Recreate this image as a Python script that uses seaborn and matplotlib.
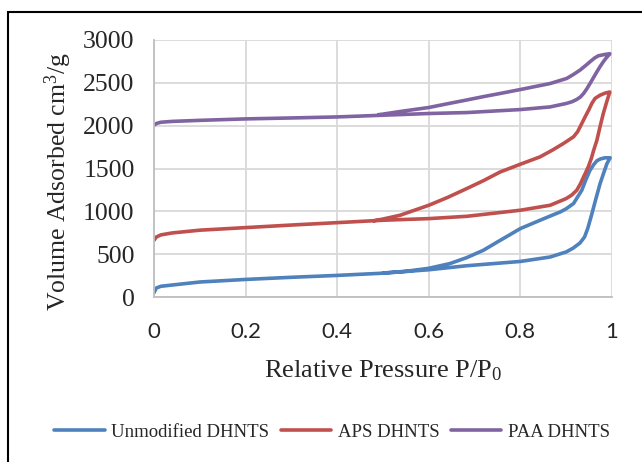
import matplotlib
matplotlib.use("Agg")
import matplotlib.pyplot as plt
from matplotlib.patches import Rectangle
import pandas as pd
import seaborn as sns

# Nitrogen adsorption/desorption isotherms (relative pressure vs. volume adsorbed)
series_names = ["Unmodified DHNTS", "APS DHNTS", "PAA DHNTS"]
series_colors = ["#4F81BD", "#C0504D", "#8064A2"]

unmod_ads_p = [0, 0.005, 0.015, 0.04, 0.1, 0.2, 0.3, 0.4, 0.5, 0.6, 0.683, 0.8, 0.865, 0.9, 0.915, 0.93, 0.94, 0.947, 0.955, 0.965, 0.974, 0.982, 0.989, 0.996]
unmod_ads_v = [50, 105, 125, 140, 175, 205, 230, 252, 278, 318, 365, 415, 467, 526, 570, 630, 700, 800, 950, 1150, 1324, 1450, 1558, 1625]
unmod_des_p = [0.996, 0.985, 0.975, 0.967, 0.96, 0.952, 0.943, 0.934, 0.916, 0.9, 0.887, 0.865, 0.843, 0.8, 0.778, 0.756, 0.719, 0.683, 0.646, 0.6, 0.55, 0.5]
unmod_des_v = [1625, 1625, 1612, 1590, 1545, 1480, 1370, 1246, 1091, 1030, 993, 945, 896, 799, 730, 662, 545, 460, 390, 335, 300, 280]

aps_ads_p = [0, 0.005, 0.015, 0.04, 0.1, 0.2, 0.3, 0.4, 0.5, 0.6, 0.683, 0.8, 0.865, 0.9, 0.912, 0.923, 0.931, 0.938, 0.944, 0.949, 0.955, 0.96, 0.967, 0.974, 0.981, 0.988, 0.995]
aps_ads_v = [662, 700, 725, 748, 780, 810, 840, 868, 896, 915, 942, 1013, 1071, 1149, 1190, 1246, 1320, 1402, 1470, 1530, 1620, 1713, 1830, 1990, 2142, 2270, 2390]
aps_des_p = [0.995, 0.985, 0.974, 0.963, 0.956, 0.949, 0.941, 0.934, 0.925, 0.916, 0.894, 0.87, 0.843, 0.8, 0.756, 0.72, 0.683, 0.64, 0.6, 0.537, 0.5, 0.48]
aps_des_v = [2393, 2380, 2356, 2318, 2260, 2181, 2100, 2025, 1930, 1870, 1792, 1715, 1636, 1550, 1460, 1360, 1266, 1160, 1071, 954, 910, 890]

paa_ads_p = [0, 0.005, 0.015, 0.04, 0.1, 0.2, 0.3, 0.4, 0.5, 0.6, 0.683, 0.8, 0.865, 0.9, 0.913, 0.923, 0.931, 0.938, 0.945, 0.952, 0.96, 0.967, 0.974, 0.981, 0.988, 0.995]
paa_ads_v = [2006, 2025, 2040, 2050, 2062, 2079, 2090, 2102, 2122, 2142, 2153, 2188, 2219, 2259, 2280, 2306, 2335, 2376, 2430, 2492, 2565, 2629, 2690, 2746, 2795, 2836]
paa_des_p = [0.995, 0.983, 0.97, 0.962, 0.952, 0.942, 0.93, 0.915, 0.901, 0.865, 0.8, 0.756, 0.72, 0.683, 0.64, 0.6, 0.537, 0.5, 0.49]
paa_des_v = [2840, 2830, 2815, 2790, 2746, 2700, 2648, 2595, 2551, 2492, 2422, 2376, 2340, 2300, 2255, 2212, 2165, 2135, 2128]

x_ticks = [0, 0.2, 0.4, 0.6, 0.8, 1]
x_tick_labels = ["0", "0.2", "0.4", "0.6", "0.8", "1"]
y_ticks = [0, 500, 1000, 1500, 2000, 2500, 3000]

branches = [
    (series_names[0], unmod_ads_p + unmod_des_p, unmod_ads_v + unmod_des_v),
    (series_names[1], aps_ads_p + aps_des_p, aps_ads_v + aps_des_v),
    (series_names[2], paa_ads_p + paa_des_p, paa_ads_v + paa_des_v),
]
rows = []
for name, ps, vs in branches:
    for p, v in zip(ps, vs):
        rows.append({"series": name, "P": p, "V": v})
df = pd.DataFrame(rows)

sns.set_theme(style="white")
plt.rcParams["font.family"] = ["Liberation Serif", "DejaVu Serif"]
plt.rcParams["mathtext.fontset"] = "custom"
plt.rcParams["mathtext.rm"] = "Liberation Serif"
plt.rcParams["mathtext.it"] = "Liberation Serif:italic"
plt.rcParams["mathtext.default"] = "regular"

fig = plt.figure(figsize=(6.42, 4.62), dpi=100)
ax = fig.add_axes([154 / 642, 1 - 297 / 462, (612 - 154) / 642, (297 - 40) / 462])

sns.lineplot(data=df, x="P", y="V", hue="series", hue_order=series_names,
             palette=series_colors, sort=False, estimator=None, linewidth=2.6,
             ax=ax, solid_capstyle="round", solid_joinstyle="round")

ax.set_xlim(0, 1)
ax.set_ylim(0, 3000)
ax.set_xticks(x_ticks)
ax.set_xticklabels(x_tick_labels, family="Lato", fontsize=16)
ax.set_yticks(y_ticks)
ax.set_yticklabels([str(t) for t in y_ticks], family="Liberation Serif", fontsize=18.5)
ax.tick_params(axis="x", length=0, pad=18)
ax.tick_params(axis="y", length=0, pad=14)
ax.grid(True, color="#D9D9D9", linewidth=1.3)
ax.set_axisbelow(True)
for side in ["top", "right"]:
    ax.spines[side].set_visible(False)
for side in ["left", "bottom"]:
    ax.spines[side].set_color("#BFBFBF")
    ax.spines[side].set_linewidth(1.3)

ax.set_xlabel(r"Relative Pressure P/P$_{0}$", fontsize=19, labelpad=12)
ax.set_ylabel(r"Volume Adsorbed cm$^{3}$/g", fontsize=18.5)
ax.yaxis.set_label_coords(-0.175, 0.45)

handles, labels = ax.get_legend_handles_labels()
ax.get_legend().remove()
fig.legend(handles, labels, loc="center", bbox_to_anchor=(332 / 642, 1 - 432 / 462),
           ncol=3, frameon=False, fontsize=13.5, handlelength=2.7,
           handletextpad=0.35, columnspacing=0.6)

# Outer frame around the chart area
fig.patches.append(Rectangle((7.5 / 642, -0.1), 1.2, 1 - 11.5 / 462 + 0.1,
                             transform=fig.transFigure, fill=False,
                             edgecolor="black", linewidth=1.5))

fig.savefig("out.png", dpi=100)
